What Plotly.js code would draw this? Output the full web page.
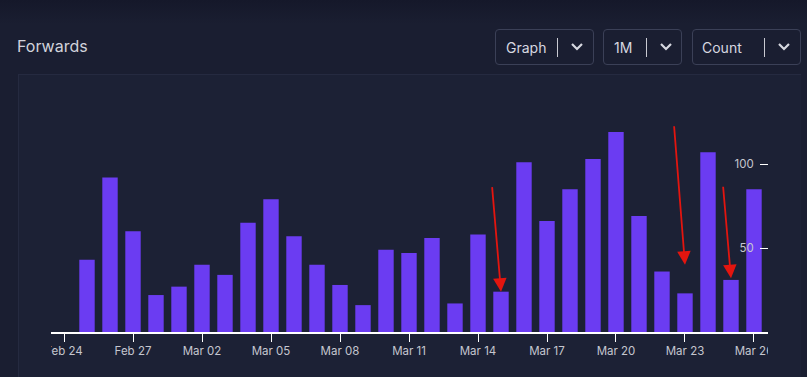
<!DOCTYPE html>
<html>
<head>
<meta charset="utf-8">
<script src="https://cdn.plot.ly/plotly-3.0.1.min.js"></script>
<style>
  html, body { margin:0; padding:0; width:807px; height:377px; overflow:hidden;
    background: linear-gradient(#15182a 0px, #1a1e31 24px, #1a1e31 100%); font-family: Inter, "Noto Sans", sans-serif; }
  #panel { position:absolute; left:18px; top:74px; width:782px; height:320px; background:#1c2135;
    border-left:1px solid #252a40; border-top:1px solid #252a40; }
  #title { position:absolute; left:17px; top:36px; font-size:16px; color:#d2d3dc; }
  .dd { position:absolute; top:29px; height:36px; border:1px solid #3b4057; border-radius:4px; box-sizing:border-box;
        color:#d7d8e0; font-size:14px; }
  .dd span.t { position:absolute; top:9px; }
  .dd .sep { position:absolute; top:8px; width:1px; height:19px; background:#c9cad2; }
  .dd svg { position:absolute; top:12px; }
  #plot { position:absolute; left:0; top:0; width:807px; height:377px; }
  .mask { position:absolute; top:334px; height:30px; background:#1c2135; }
</style>
</head>
<body>
<div id="panel"></div>
<div id="title">Forwards</div>
<div class="dd" style="left:495px;width:99px;"><span class="t" style="left:10px;">Graph</span><div class="sep" style="left:61px;"></div>
  <svg width="14" height="10" style="left:74px;"><path d="M2 2 L7 7 L12 2" stroke="#d7d8e0" stroke-width="2.2" fill="none"/></svg></div>
<div class="dd" style="left:603px;width:79px;"><span class="t" style="left:10px;">1M</span><div class="sep" style="left:42px;"></div>
  <svg width="14" height="10" style="left:55px;"><path d="M2 2 L7 7 L12 2" stroke="#d7d8e0" stroke-width="2.2" fill="none"/></svg></div>
<div class="dd" style="left:692px;width:109px;"><span class="t" style="left:9px;">Count</span><div class="sep" style="left:71px;"></div>
  <svg width="14" height="10" style="left:84px;"><path d="M2 2 L7 7 L12 2" stroke="#d7d8e0" stroke-width="2.2" fill="none"/></svg></div>
<div id="plot"></div>
<div class="mask" style="left:19px;width:32px;"></div>
<div class="mask" style="left:768px;width:32px;"></div>
<script>
const dates = ['2023-02-25','2023-02-26','2023-02-27','2023-02-28','2023-03-01','2023-03-02','2023-03-03','2023-03-04',
  '2023-03-05','2023-03-06','2023-03-07','2023-03-08','2023-03-09','2023-03-10','2023-03-11','2023-03-12','2023-03-13',
  '2023-03-14','2023-03-15','2023-03-16','2023-03-17','2023-03-18','2023-03-19','2023-03-20','2023-03-21','2023-03-22',
  '2023-03-23','2023-03-24','2023-03-25','2023-03-26'];
const forwards = [43, 92, 60, 22, 27, 40, 34, 65, 79, 57, 40, 28, 16, 49, 47, 56, 17, 58, 24, 101, 66, 85, 103, 119, 69, 36, 23, 107, 31, 85];
const xTickDates = ['2023-02-24','2023-02-27','2023-03-02','2023-03-05','2023-03-08','2023-03-11','2023-03-14',
  '2023-03-17','2023-03-20','2023-03-23','2023-03-26'];
const xTickLabels = ['Feb 24','Feb 27','Mar 02','Mar 05','Mar 08','Mar 11','Mar 14','Mar 17','Mar 20','Mar 23','Mar 26'];
const yTickVals = [50, 100];
// hand-drawn red arrows in the reference: which day they point at, and how far above the bar the tip sits
const arrowDates = ['2023-03-15', '2023-03-23', '2023-03-25'];
const arrowLift = [0, 17, 1];

const annotations = arrowDates.map((d, i) => {
  const idx = dates.indexOf(d);
  const tails = [[-9, -106], [-11, -140], [-8, -93]];
  return { x: d, y: forwards[idx] + arrowLift[i], xref: 'x', yref: 'y', text: '', showarrow: true,
    ax: tails[i][0], ay: tails[i][1], arrowcolor: '#e3150f', arrowwidth: 1.8, arrowhead: 2, arrowsize: 1.5, standoff: 0 };
});

Plotly.newPlot('plot', [{
  type: 'bar', x: dates, y: forwards, marker: { color: '#6b3cf2' }, hoverinfo: 'x+y'
}], {
  width: 807, height: 377,
  margin: { l: 51, r: 39, t: 122, b: 45 },
  paper_bgcolor: 'rgba(0,0,0,0)', plot_bgcolor: 'rgba(0,0,0,0)',
  bargap: 0.33,
  showlegend: false,
  xaxis: {
    type: 'date', range: ['2023-02-23 10:26', '2023-03-26 14:37'],
    tickmode: 'array', tickvals: xTickDates, ticktext: xTickLabels,
    ticks: 'outside', ticklen: 8, tickcolor: '#ffffff', tickwidth: 1,
    showline: true, linecolor: '#ffffff', linewidth: 1.5, showgrid: false, zeroline: false,
    tickfont: { family: 'Inter, sans-serif', size: 11.5, color: '#c5c6cf' }
  },
  yaxis: {
    side: 'left', anchor: 'free', position: 1, range: [0, 125], tickvals: yTickVals, ticktext: yTickVals.map(String),
    ticks: 'outside', ticklen: 8, tickcolor: '#ffffff', tickwidth: 1,
    ticklabelstandoff: 4,
    showline: false, showgrid: false, zeroline: false,
    tickfont: { family: 'Inter, sans-serif', size: 11.5, color: '#c5c6cf' }
  },
  annotations: annotations
}, { displayModeBar: false, staticPlot: true });
</script>
</body>
</html>
